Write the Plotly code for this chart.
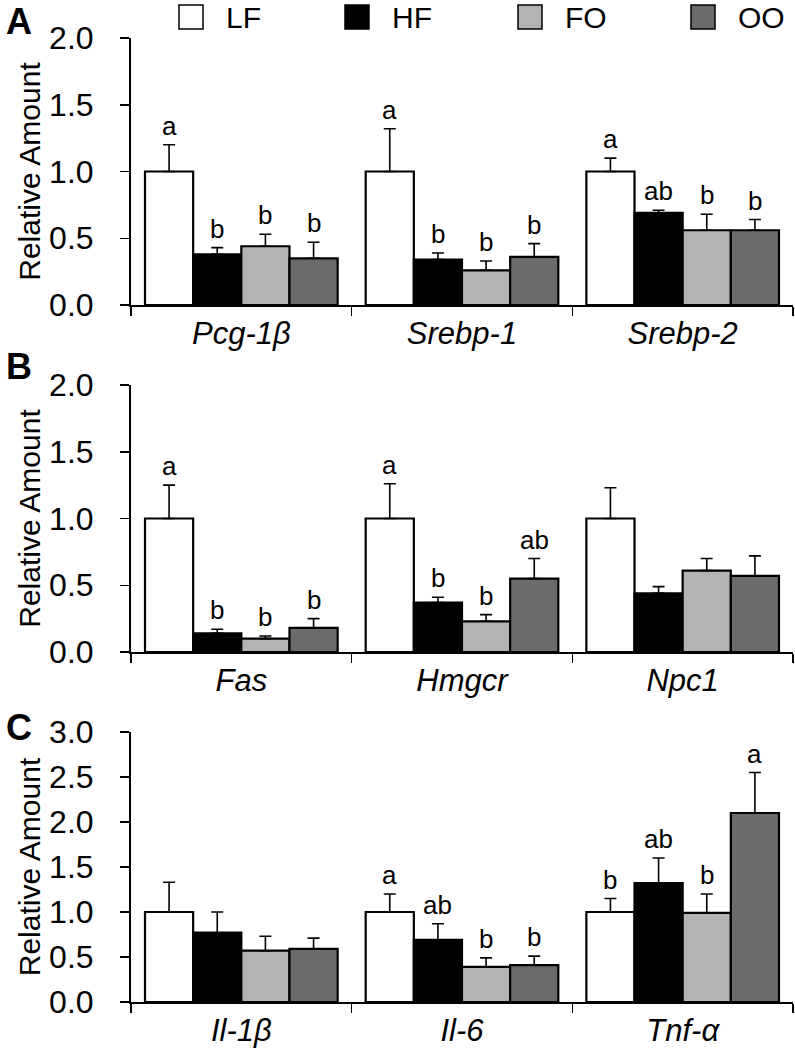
import plotly.graph_objects as go

# ---------------- data ----------------
groups = ["LF", "HF", "FO", "OO"]
colors = ["#ffffff", "#000000", "#b3b3b3", "#6b6b6b"]

genes_A = ["Pcg-1β", "Srebp-1", "Srebp-2"]
A_mean = {
    "LF": [1.00, 1.00, 1.00],
    "HF": [0.38, 0.34, 0.69],
    "FO": [0.44, 0.26, 0.56],
    "OO": [0.35, 0.36, 0.56],
}
A_sem = {
    "LF": [0.20, 0.32, 0.10],
    "HF": [0.05, 0.05, 0.02],
    "FO": [0.09, 0.07, 0.12],
    "OO": [0.12, 0.10, 0.08],
}
A_sig = {
    "LF": ["a", "a", "a"],
    "HF": ["b", "b", "ab"],
    "FO": ["b", "b", "b"],
    "OO": ["b", "b", "b"],
}

genes_B = ["Fas", "Hmgcr", "Npc1"]
B_mean = {
    "LF": [1.00, 1.00, 1.00],
    "HF": [0.14, 0.37, 0.44],
    "FO": [0.10, 0.23, 0.61],
    "OO": [0.18, 0.55, 0.57],
}
B_sem = {
    "LF": [0.25, 0.26, 0.23],
    "HF": [0.03, 0.04, 0.05],
    "FO": [0.02, 0.05, 0.09],
    "OO": [0.07, 0.15, 0.15],
}
B_sig = {
    "LF": ["a", "a", ""],
    "HF": ["b", "b", ""],
    "FO": ["b", "b", ""],
    "OO": ["b", "ab", ""],
}

genes_C = ["Il-1β", "Il-6", "Tnf-α"]
C_mean = {
    "LF": [1.00, 1.00, 1.00],
    "HF": [0.77, 0.69, 1.32],
    "FO": [0.57, 0.39, 0.99],
    "OO": [0.59, 0.41, 2.10],
}
C_sem = {
    "LF": [0.33, 0.20, 0.15],
    "HF": [0.23, 0.18, 0.28],
    "FO": [0.16, 0.10, 0.21],
    "OO": [0.12, 0.10, 0.45],
}
C_sig = {
    "LF": ["", "a", "b"],
    "HF": ["", "ab", "ab"],
    "FO": ["", "b", "b"],
    "OO": ["", "b", "a"],
}

panel_labels = ["A", "B", "C"]
y_ranges = [[0, 2], [0, 2], [0, 3]]
y_ticks = [[0, 0.5, 1.0, 1.5, 2.0], [0, 0.5, 1.0, 1.5, 2.0],
           [0, 0.5, 1.0, 1.5, 2.0, 2.5, 3.0]]

# ---------------- layout geometry ----------------
W, H = 795, 1050
ML, MR, MT, MB = 131, 2, 38, 48
PW, PH = W - ML - MR, H - MT - MB
FONT = "Liberation Sans, Arial, Helvetica, sans-serif"


def px_x(px):
    return (px - ML) / PW


def px_y(py):
    return (H - MB - py) / PH


# pixel tops / bottoms of each plot area
y_px = [(38, 305), (385, 652), (732, 1002)]
letter_y_px = [21, 366, 727]
BARGAP = 0.127

panels = [
    (genes_A, A_mean, A_sem, A_sig),
    (genes_B, B_mean, B_sem, B_sig),
    (genes_C, C_mean, C_sem, C_sig),
]

fig = go.Figure()
annotations = []
shapes = []

for p, (genes, mean, sem, sig) in enumerate(panels):
    xa = "x" if p == 0 else f"x{p+1}"
    ya = "y" if p == 0 else f"y{p+1}"
    for k, g in enumerate(groups):
        fig.add_trace(go.Bar(
            x=genes, y=mean[g], name=g, showlegend=False,
            xaxis=xa, yaxis=ya,
            marker=dict(color=colors[k], line=dict(color="black", width=2.2)),
            error_y=dict(type="data", symmetric=False, array=sem[g],
                         arrayminus=[0] * len(genes),
                         color="black", thickness=1.6, width=6),
        ))
        w = (1 - BARGAP) / len(groups)
        for i, s in enumerate(sig[g]):
            if not s:
                continue
            annotations.append(dict(
                x=i - 0.5 + BARGAP / 2 + (k + 0.5) * w,
                y=mean[g][i] + sem[g][i],
                xref=xa, yref=ya, text=s, showarrow=False,
                yanchor="bottom", yshift=2,
                font=dict(family=FONT, size=26, color="black"),
            ))
    top, bot = y_px[p]
    dom = [px_y(bot), px_y(top)]
    ax_key = "xaxis" if p == 0 else f"xaxis{p+1}"
    ay_key = "yaxis" if p == 0 else f"yaxis{p+1}"
    fig.layout[ax_key] = dict(
        domain=[0, 1], anchor=ya, type="category", automargin=False,
        showline=True, linecolor="black", linewidth=2,
        ticks="outside", tickson="boundaries", ticklen=9, tickwidth=1.5,
        tickcolor="black", showgrid=False, zeroline=False,
        tickfont=dict(family=FONT, size=31, color="black", style="italic"),
        ticklabelstandoff=0,
    )
    fig.layout[ay_key] = dict(
        domain=dom, anchor=xa, range=y_ranges[p], automargin=False,
        tickvals=y_ticks[p], tickformat=".1f",
        showline=True, linecolor="black", linewidth=2,
        ticks="outside", ticklen=9, tickwidth=1.5, tickcolor="black",
        showgrid=False, zeroline=False,
        tickfont=dict(family=FONT, size=32, color="black"),
        ticklabelstandoff=20,
        title=dict(text="Relative Amount", standoff=0,
                   font=dict(family=FONT, size=30, color="black")),
    )
    annotations.append(dict(
        x=px_x(19), y=px_y(letter_y_px[p]), xref="paper", yref="paper",
        text=f"<b>{panel_labels[p]}</b>", showarrow=False,
        xanchor="center", yanchor="middle",
        font=dict(family=FONT, size=36, color="black"),
    ))

# ---------------- legend (drawn) ----------------
legend_x_px = [179, 345, 518, 691]
box = 24
for k, g in enumerate(groups):
    x0 = legend_x_px[k]
    shapes.append(dict(
        type="rect", xref="paper", yref="paper",
        x0=px_x(x0), x1=px_x(x0 + box), y0=px_y(29), y1=px_y(5),
        fillcolor=colors[k], line=dict(color="black", width=1.5),
    ))
    annotations.append(dict(
        x=px_x(x0 + box + 21), y=px_y(17), xref="paper", yref="paper",
        text=g, showarrow=False, xanchor="left", yanchor="middle",
        font=dict(family=FONT, size=30, color="black"),
    ))

fig.update_layout(
    width=W, height=H, barmode="group", bargap=BARGAP, bargroupgap=0,
    margin=dict(l=ML, r=MR, t=MT, b=MB, autoexpand=False),
    paper_bgcolor="white", plot_bgcolor="white",
    annotations=annotations, shapes=shapes, showlegend=False,
    font=dict(family=FONT, color="black"),
)

fig.write_html(
    "out.html",
    config={"displayModeBar": False, "staticPlot": True},
    post_script="document.body.style.margin='0px';"
                "document.body.style.overflow='hidden';",
)
